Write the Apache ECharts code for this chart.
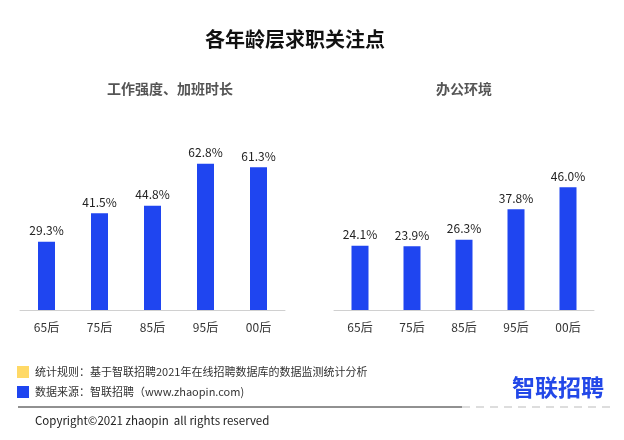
<!DOCTYPE html>
<html><head><meta charset="utf-8">
<script src="https://cdn.jsdelivr.net/npm/echarts@6/dist/echarts.min.js"></script>
<style>html,body{margin:0;padding:0;background:#fff}#c{width:624px;height:440px}</style>
</head><body><div id="c"></div>
<script>
const categories = ['65后','75后','85后','95后','00后'];
const workIntensity = [29.3, 41.5, 44.8, 62.8, 61.3];
const officeEnv = [24.1, 23.9, 26.3, 37.8, 46.0];
const mainTitle = '各年龄层求职关注点';
const subTitles = ['工作强度、加班时长', '办公环境'];
const noteRule = '统计规则：基于智联招聘2021年在线招聘数据库的数据监测统计分析';
const noteSource = '数据来源：智联招聘（www.zhaopin.com)';
const copyright = 'Copyright©2021 zhaopin  all rights reserved';
const logo = '智联招聘';

const font = '"Microsoft YaHei","Noto Sans CJK SC",sans-serif';
const blue = '#1f45f0';
const chart = echarts.init(document.getElementById('c'));
function xAx(i){return {type:'category',gridIndex:i,data:categories,
  axisLine:{lineStyle:{color:'#d0d0d0'}},axisTick:{show:false},
  axisLabel:{color:'#333',fontSize:12,margin:11,fontFamily:font}};}
function yAx(i,max){return {type:'value',gridIndex:i,min:0,max:max,show:false,splitLine:{show:false}};}
function ser(i,d){return {type:'bar',xAxisIndex:i,yAxisIndex:i,data:d,barWidth:17,
  itemStyle:{color:blue},
  label:{show:true,position:'top',distance:5,color:'#222',fontSize:12,fontFamily:font,
    formatter:p=>p.value.toFixed(1)+'%'}};}
chart.setOption({
  animation:false,
  title:[
    {text:mainTitle,left:290,top:24,textAlign:'center',textStyle:{fontSize:20,fontWeight:'bold',color:'#111',fontFamily:font}},
    {text:subTitles[0],left:165,top:77,textAlign:'center',textStyle:{fontSize:14,fontWeight:'bold',color:'#555',fontFamily:font}},
    {text:subTitles[1],left:459,top:77,textAlign:'center',textStyle:{fontSize:14,fontWeight:'bold',color:'#555',fontFamily:font}}
  ],
  grid:[
    {left:20,width:265,top:147,bottom:130},
    {left:334,width:260,top:150,bottom:130}
  ],
  xAxis:[xAx(0),xAx(1)],
  yAxis:[yAx(0,70),yAx(1,60)],
  series:[ser(0,workIntensity),ser(1,officeEnv)],
  graphic:[
    {type:'rect',shape:{x:17,y:366,width:12,height:12},style:{fill:'#ffd966'}},
    {type:'rect',shape:{x:17,y:386,width:12,height:12},style:{fill:blue}},
    {type:'text',x:35,y:372,style:{text:noteRule,fill:'#333',fontSize:11,fontFamily:font,verticalAlign:'middle'}},
    {type:'text',x:35,y:392,style:{text:noteSource,fill:'#333',fontSize:11,fontFamily:font,verticalAlign:'middle'}},
    {type:'line',shape:{x1:18,y1:407,x2:462,y2:407},style:{stroke:'#222',lineWidth:1}},
    {type:'line',shape:{x1:462,y1:407,x2:610,y2:407},style:{stroke:'#bbb',lineWidth:1,lineDash:[8,6]}},
    {type:'text',x:35,y:421,style:{text:copyright,fill:'#222',fontSize:11.5,fontFamily:font,verticalAlign:'middle'}},
    {type:'text',x:558,y:387,style:{text:logo,fill:'#2348e8',fontSize:23,fontWeight:'bold',fontFamily:font,align:'center',verticalAlign:'middle'}}
  ]
});
</script></body></html>
